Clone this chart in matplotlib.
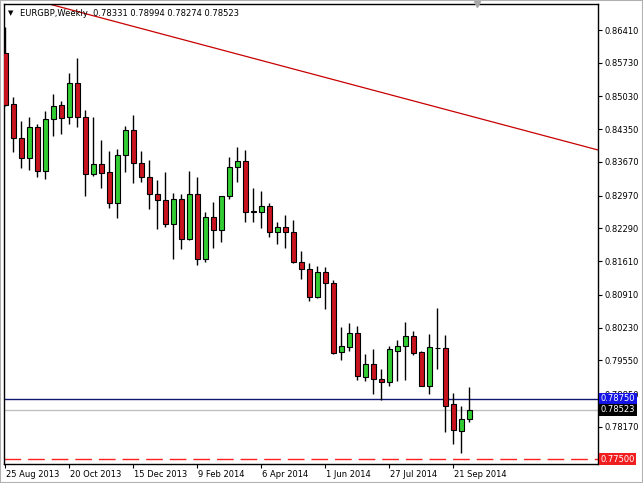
import matplotlib
matplotlib.use("Agg")
import matplotlib.pyplot as plt
import matplotlib.transforms as mtransforms
import numpy as np

# weekly EURGBP candles, 25 Aug 2013 .. 5 Oct 2014
opens = [0.85933, 0.84868, 0.84162, 0.83747, 0.84403, 0.83489, 0.84569, 0.84847, 0.84598, 0.85304,
         0.84610, 0.83414, 0.83622, 0.83456, 0.82812, 0.83809, 0.84328, 0.83643, 0.83352, 0.82999,
         0.82881, 0.82376, 0.82895, 0.82065, 0.82999, 0.81650, 0.82522, 0.82252, 0.82964, 0.83560,
         0.83684, 0.82646, 0.82626, 0.82750, 0.82210, 0.82314, 0.82210, 0.81588, 0.81442, 0.80861,
         0.81380, 0.81152, 0.79719, 0.79835, 0.80114, 0.79213, 0.79470, 0.79159, 0.79096, 0.79752,
         0.79850, 0.80057, 0.79725, 0.79026, 0.79808, 0.79802, 0.78640, 0.78091, 0.78331]
highs = [0.86472, 0.85013, 0.84521, 0.84598, 0.84452, 0.84728, 0.85081, 0.84936, 0.85511, 0.85823,
         0.84749, 0.84610, 0.84126, 0.83898, 0.83933, 0.84417, 0.84645, 0.83892, 0.83711, 0.83296,
         0.83462, 0.83020, 0.82999, 0.83483, 0.83352, 0.82638, 0.82833, 0.82964, 0.83767, 0.83975,
         0.83919, 0.83124, 0.83074, 0.82819, 0.82430, 0.82569, 0.82466, 0.81822, 0.81567, 0.81511,
         0.81484, 0.81220, 0.80251, 0.80321, 0.80259, 0.79678, 0.79781, 0.79366, 0.79850, 0.79974,
         0.80342, 0.80167, 0.79746, 0.80099, 0.80645, 0.80078, 0.78868, 0.78604, 0.78994]
lows = [0.84832, 0.83884, 0.83539, 0.83504, 0.83352, 0.83311, 0.84216, 0.84245, 0.84459, 0.84403,
        0.82970, 0.83385, 0.83136, 0.82709, 0.82501, 0.83468, 0.83240, 0.83261, 0.82688, 0.82273,
        0.82314, 0.81662, 0.81857, 0.82060, 0.81531, 0.81600, 0.81878, 0.82015, 0.82895, 0.83261,
        0.82430, 0.82430, 0.82293, 0.82119, 0.81961, 0.81891, 0.81567, 0.81235, 0.80790, 0.80840,
        0.80618, 0.79678, 0.79559, 0.79752, 0.79138, 0.79130, 0.78853, 0.78729, 0.79026, 0.79123,
        0.79144, 0.79663, 0.79020, 0.78853, 0.79372, 0.78071, 0.77815, 0.77635, 0.78274]
closes = [0.84853, 0.84162, 0.83747, 0.84403, 0.83489, 0.84569, 0.84838, 0.84589, 0.85304, 0.84610,
          0.83414, 0.83622, 0.83448, 0.82812, 0.83809, 0.84328, 0.83643, 0.83365, 0.82999, 0.82875,
          0.82376, 0.82895, 0.82065, 0.82999, 0.81650, 0.82522, 0.82252, 0.82962, 0.83560, 0.83684,
          0.82638, 0.82632, 0.82750, 0.82210, 0.82314, 0.82210, 0.81588, 0.81442, 0.80873, 0.81380,
          0.81152, 0.79711, 0.79850, 0.80114, 0.79217, 0.79470, 0.79159, 0.79096, 0.79781, 0.79850,
          0.80057, 0.79711, 0.79026, 0.79823, 0.79802, 0.78611, 0.78106, 0.78334, 0.78523]

date_labels = ["25 Aug 2013", "20 Oct 2013", "15 Dec 2013", "9 Feb 2014",
               "6 Apr 2014", "1 Jun 2014", "27 Jul 2014", "21 Sep 2014"]
date_idx = [0, 8, 16, 24, 32, 40, 48, 56]

price_ticks = [0.86410, 0.85730, 0.85030, 0.84350, 0.83670, 0.82970, 0.82290,
               0.81610, 0.80910, 0.80230, 0.79550, 0.78850, 0.78170]

trend_x = [0, 75]
trend_y = [0.87192, 0.83879]
level_blue = 0.78750
level_bid = 0.78523
level_red = 0.77500

o = np.array(opens)
h = np.array(highs)
l = np.array(lows)
c = np.array(closes)
x = np.arange(len(o))
up = c >= o

fig = plt.figure(figsize=(6.43, 4.83), dpi=100)
ax = fig.add_axes([4 / 643, 19 / 483, 594 / 643, 460 / 483])

ax.vlines(x, l, h, color="black", lw=1, zorder=2)
ax.bar(x, np.abs(c - o), bottom=np.minimum(o, c), width=0.6,
       color=np.where(up, "#32cd32", "#c8141e"), edgecolor="black", lw=0.8, zorder=3)

ax.plot(trend_x, trend_y, color="#c80000", lw=0.9, zorder=1)
ax.axhline(level_blue, color="#101870", lw=1, zorder=1)
ax.axhline(level_bid, color="#c0c0c0", lw=1, zorder=1)
ax.axhline(level_red, color="#ff2020", lw=1, dashes=(12, 5), zorder=1)

ax.set_xlim(-0.16, 74.09)
ax.set_ylim(0.77400, 0.86950)

ax.yaxis.tick_right()
ax.set_yticks(price_ticks)
ax.set_yticklabels([f"{v:.5f}" for v in price_ticks])
ax.set_xticks(date_idx)
ax.set_xticklabels(date_labels, ha="left")
ax.tick_params(axis="both", direction="out", length=3, width=0.8, labelsize=6.0, pad=2)
ax.tick_params(axis="x", pad=1)
offset = mtransforms.ScaledTranslation(0.5 / 100, 0, fig.dpi_scale_trans)
for lab in ax.get_xticklabels():
    lab.set_transform(lab.get_transform() + offset)
for sp in ax.spines.values():
    sp.set_color("black")
    sp.set_linewidth(1)

# price boxes on the right scale
tr = mtransforms.blended_transform_factory(ax.transAxes, ax.transData)
for val, fc in [(level_blue, "#1414e6"), (level_bid, "#000000"), (level_red, "#f01e1e")]:
    ax.text(1.004, val, f"{val:.5f}", transform=tr, color="white", fontsize=6.0,
            va="center", ha="left", clip_on=False, zorder=10,
            bbox=dict(boxstyle="square,pad=0.2", fc=fc, ec="none"))

# chart shift marker
ax.plot([58.96], [1.0], marker="v", ms=5, color="#a8a8a8",
        transform=mtransforms.blended_transform_factory(ax.transData, ax.transAxes),
        clip_on=False, zorder=10)

fig.text(8 / 643, 1 - 13 / 483, "\u25bc", fontsize=5, va="center", ha="left")
fig.text(20 / 643, 1 - 13 / 483, "EURGBP,Weekly  0.78331 0.78994 0.78274 0.78523",
         fontsize=6.0, va="center", ha="left")

# window frame
fig.patches.append(plt.Rectangle((0, 0), 1, 1, transform=fig.transFigure, fill=False,
                                 ec="#b0b0b0", lw=1.5))

fig.savefig("out.png", dpi=100, facecolor="white")
